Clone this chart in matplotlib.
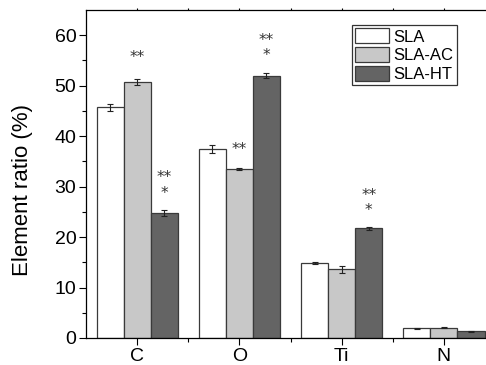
import numpy as np
import matplotlib.pyplot as plt

plt.rcParams['font.family'] = ['Liberation Sans', 'DejaVu Sans']

elements = ["C", "O", "Ti", "N"]
groups = ["SLA", "SLA-AC", "SLA-HT"]
sla = [45.7, 37.4, 14.8, 1.9]
sla_err = [0.7, 0.8, 0.2, 0.15]
sla_ac = [50.7, 33.5, 13.6, 2.0]
sla_ac_err = [0.6, 0.2, 0.7, 0.1]
sla_ht = [24.8, 52.0, 21.7, 1.3]
sla_ht_err = [0.6, 0.5, 0.2, 0.1]

# significance marks: (element index, group index, text, y)
marks = [
    (0, 1, "**", 55.5),
    (0, 2, "**", 31.8),
    (0, 2, "*", 28.7),
    (1, 1, "**", 37.4),
    (1, 2, "**", 58.9),
    (1, 2, "*", 55.9),
    (2, 2, "**", 28.3),
    (2, 2, "*", 25.2),
]

colors = ["white", "#c8c8c8", "#646464"]
width = 0.265

fig = plt.figure(figsize=(4.86, 3.65), dpi=100)
ax = fig.add_axes([0.177, 0.074, 0.8415, 0.8986])

x = np.arange(len(elements))
series = [(sla, sla_err), (sla_ac, sla_ac_err), (sla_ht, sla_ht_err)]
for i, (vals, errs) in enumerate(series):
    pos = x + (i - 1) * width
    ax.bar(pos, vals, width, color=colors[i], edgecolor="#3a3a3a", linewidth=0.9,
           label=groups[i], zorder=2)
    ax.errorbar(pos, vals, yerr=errs, fmt="none", ecolor="#222222", elinewidth=0.8,
                capsize=2.2, capthick=0.8, zorder=3)

for ei, gi, txt, yv in marks:
    ax.text(x[ei] + (gi - 1) * width, yv, txt, ha="center", va="center",
            fontsize=11, color="#333333", family="DejaVu Sans")

ax.set_xlim(-0.5, 3.5)
ax.set_ylim(0, 65)
ax.set_xticks(x)
ax.set_xticklabels(elements)
ax.set_xticks(np.arange(0.5, 3.5, 1), minor=True)
ax.set_yticks(np.arange(0, 61, 10))
ax.set_yticks(np.arange(5, 65, 10), minor=True)
ax.tick_params(axis="both", which="major", direction="out", length=5, width=0.8,
               labelsize=14, pad=2)
ax.tick_params(axis="both", which="minor", direction="out", length=3, width=0.8)
ax.tick_params(axis="x", which="both", top=True)
ax.tick_params(axis="x", which="major", length=5)
for t in ax.xaxis.get_major_ticks() + ax.xaxis.get_minor_ticks():
    t.tick2line.set_markersize(1.5)
ax.spines["right"].set_visible(False)
for s in ["left", "bottom", "top"]:
    ax.spines[s].set_linewidth(0.9)
ax.set_ylabel("Element ratio (%)", fontsize=16)
ax.yaxis.set_label_coords(-0.13, 0.451)

leg = ax.legend(loc="upper left", bbox_to_anchor=(352 / 486, 1 - 25 / 365),
                bbox_transform=fig.transFigure, fontsize=12, frameon=True,
                fancybox=False, edgecolor="black", handlelength=2.0,
                handleheight=1.0, labelspacing=0.15, handletextpad=0.3,
                borderpad=0.2, borderaxespad=0)
leg.get_frame().set_linewidth(0.9)

fig.savefig("out.png", dpi=100)
